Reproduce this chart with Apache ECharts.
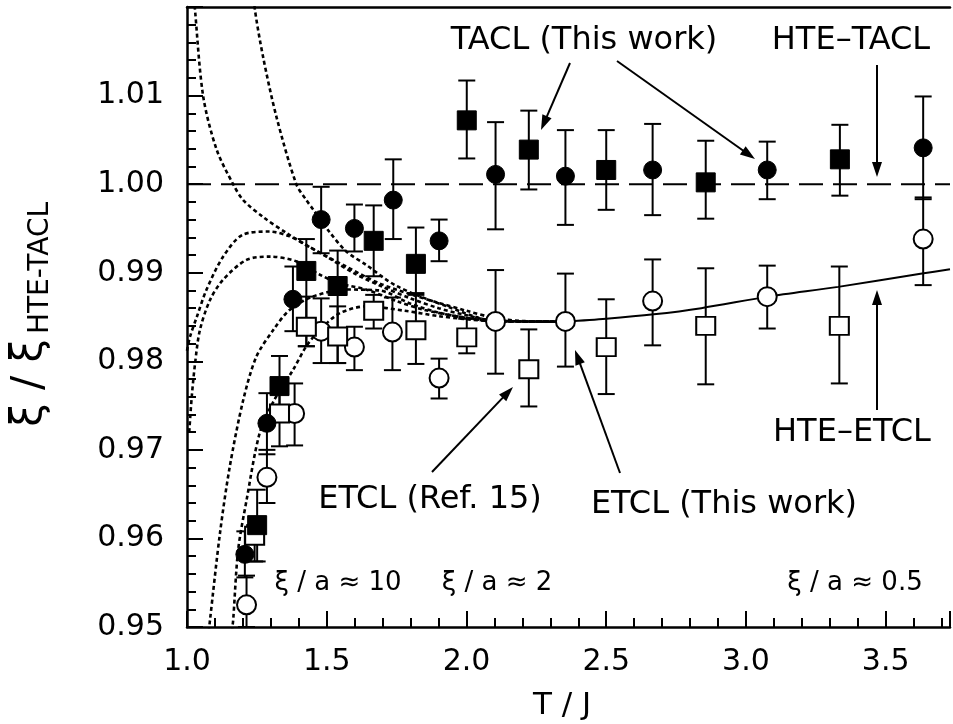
<!DOCTYPE html>
<html>
<head>
<meta charset="utf-8">
<script src="https://cdn.jsdelivr.net/npm/echarts@6/dist/echarts.min.js"></script>
<style>
html,body{margin:0;padding:0;background:#fff;}
#chart{width:953px;height:724px;}
</style>
</head>
<body>
<div id="chart"></div>
<script>
// ---- Data: [T/J, value, errLow, errHigh] ----
const taclCircles = [
  [1.207,0.9582,0.9556,0.9608],[1.286,0.9730,0.9695,0.9764],[1.379,0.9870,0.9834,0.9907],
  [1.480,0.9960,0.9922,0.9997],[1.599,0.9950,0.9924,0.9977],[1.738,0.9982,0.9938,1.0028],
  [1.902,0.9936,0.9913,0.9960],[2.104,1.0011,0.9949,1.0070],[2.354,1.0009,0.9954,1.0061],
  [2.666,1.0016,0.9965,1.0068],[3.076,1.0016,0.9983,1.0048],[3.634,1.0041,0.9983,1.0099]
];
const taclSquares = [
  [1.251,0.9615,0.9574,0.9655],[1.331,0.9772,0.9737,0.9806],[1.427,0.9902,0.9817,0.9938],
  [1.539,0.9885,0.9798,0.9925],[1.668,0.9936,0.9896,0.9976],[1.819,0.9910,0.9875,0.9951],
  [2.001,1.0072,1.0029,1.0117],[2.223,1.0039,0.9994,1.0083],[2.500,1.0016,0.9971,1.0061],
  [2.856,1.0002,0.9961,1.0049],[3.336,1.0028,0.9987,1.0067]
];
const etclRefSquares = [
  [1.242,0.9603,0.9574,0.9615],[1.331,0.9741,0.9704,0.9764],[1.427,0.9839,0.9817,0.9873],
  [1.539,0.9828,0.9798,0.9862],[1.668,0.9857,0.9837,0.9875],[1.819,0.9835,0.9797,0.9877],
  [2.001,0.9827,0.9809,0.9848],[2.223,0.9791,0.9749,0.9836],[2.500,0.9816,0.9763,0.9870],
  [2.856,0.9840,0.9774,0.9905],[3.334,0.9840,0.9775,0.9907]
];
const etclCircles = [
  [1.213,0.9525,0.9500,0.9558],[1.286,0.9669,0.9640,0.9700],[1.385,0.9741,0.9705,0.9775],
  [1.480,0.9834,0.9798,0.9871],[1.599,0.9816,0.9790,0.9839],[1.735,0.9833,0.9790,0.9872],
  [1.902,0.9781,0.9758,0.9803],[2.104,0.9845,0.9786,0.9903],[2.354,0.9845,0.9794,0.9899],
  [2.666,0.9868,0.9818,0.9915],[3.076,0.9873,0.9837,0.9908],[3.634,0.9938,0.9886,0.9985]
];
// HTE curves (dotted) and HTE-ETCL (solid)
const curveA = [[1.022,1.0225],[1.028,1.0199],[1.058,1.0099],[1.106,1.0039],[1.165,1.0000],[1.201,0.9982],[1.272,0.9963],[1.355,0.9945],[1.450,0.9927],[1.569,0.9907],[1.688,0.9888],[1.807,0.9875],[1.900,0.9866],[2.000,0.9857],[2.100,0.9849],[2.200,0.98455],[2.350,0.98447]];
const curveB = [[1.236,1.0225],[1.242,1.0199],[1.272,1.0144],[1.320,1.0076],[1.391,1.0000],[1.427,0.9982],[1.450,0.9972],[1.510,0.9946],[1.570,0.9924],[1.640,0.9909],[1.750,0.9885],[1.930,0.9862],[2.100,0.98458],[2.350,0.98447]];
const curveC = [[1.000,0.9812],[1.011,0.9828],[1.035,0.9850],[1.070,0.9881],[1.129,0.9918],[1.200,0.9943],[1.296,0.99465],[1.367,0.9941],[1.427,0.9931],[1.500,0.9918],[1.600,0.9899],[1.700,0.9884],[1.800,0.9871],[1.900,0.9860],[2.000,0.9852],[2.100,0.98458],[2.350,0.98447]];
const curveD = [[1.008,0.9720],[1.017,0.9760],[1.029,0.9798],[1.046,0.9835],[1.082,0.9869],[1.129,0.9892],[1.213,0.99145],[1.296,0.99182],[1.390,0.9913],[1.474,0.9898],[1.545,0.9888],[1.641,0.9881],[1.750,0.9868],[1.850,0.9858],[2.000,0.9849],[2.100,0.98452],[2.350,0.98447]];
const curveE = [[1.078,0.9495],[1.082,0.9507],[1.118,0.9606],[1.153,0.9681],[1.201,0.9756],[1.248,0.9805],[1.308,0.9835],[1.367,0.9858],[1.450,0.9873],[1.569,0.9881],[1.688,0.9880],[1.800,0.9865],[1.900,0.9855],[2.000,0.9849],[2.100,0.98452],[2.350,0.98447]];
const curveF = [[1.160,0.9495],[1.165,0.9507],[1.183,0.9587],[1.213,0.9643],[1.260,0.9719],[1.310,0.9755],[1.379,0.9790],[1.427,0.9817],[1.474,0.9835],[1.545,0.9854],[1.641,0.9862],[1.780,0.9857],[1.900,0.9851],[2.000,0.98475],[2.100,0.98452],[2.350,0.98447]];
const hteEtcl = [[2.35,0.98447],[2.50,0.9848],[2.67,0.9853],[2.84,0.9860],[3.08,0.9873],[3.33,0.9884],[3.63,0.9899],[3.73,0.9904]];
const hteTacl = [[1.0,1.0],[3.73,1.0]];

// axis settings
const xMin = 1.0, xMax = 3.73, xStep = 0.5;
const yMin = 0.95, yMax = 1.02, yStep = 0.01;

// text annotations
const annTexts = [
  {t:'TACL (This work)', x:584, y:41, s:32},
  {t:'HTE–TACL', x:851, y:41, s:32},
  {t:'HTE–ETCL', x:852, y:433, s:32},
  {t:'ETCL (This work)', x:724, y:505, s:32},
  {t:'ETCL (Ref. 15)', x:430, y:500, s:32},
  {t:'ξ / a ≈ 10', x:338, y:583, s:26},
  {t:'ξ / a ≈ 2', x:497, y:583, s:26},
  {t:'ξ / a ≈ 0.5', x:855, y:583, s:26}
];
const annArrows = [
  [570,63,541,130],[617,61,755,159],[877,65,877,177],[877,410,877,290],[620,473,575,350],[432,472,513,387]
];

const FF = '"DejaVu Sans", sans-serif';
const chart = echarts.init(document.getElementById('chart'), null, {renderer:'canvas'});

function errBars(data){
  return {
    type:'custom', data:data.map(r=>[r[0],r[2],r[3]]), encode:{x:0,y:[1,2]}, clip:true, z:3,
    renderItem:function(params, api){
      const lo = api.coord([api.value(0), api.value(1)]);
      const hi = api.coord([api.value(0), api.value(2)]);
      const w = 8.5, st = {stroke:'#000', lineWidth:2};
      return {type:'group', children:[
        {type:'line', shape:{x1:lo[0],y1:lo[1],x2:hi[0],y2:hi[1]}, style:st},
        {type:'line', shape:{x1:lo[0]-w,y1:lo[1],x2:lo[0]+w,y2:lo[1]}, style:st},
        {type:'line', shape:{x1:hi[0]-w,y1:hi[1],x2:hi[0]+w,y2:hi[1]}, style:st}
      ]};
    }
  };
}
function marks(data, symbol, size, filled){
  return {
    type:'scatter', data:data.map(r=>[r[0],r[1]]), symbol:symbol, symbolSize:size, z:5,
    itemStyle: filled ? {color:'#000', borderColor:'#000', borderWidth:1, opacity:1}
                      : {color:'#fff', borderColor:'#000', borderWidth:2, opacity:1},
    emphasis:{disabled:true}
  };
}
function dotted(data){
  return {type:'line', data:data, symbol:'none', smooth:0.3, z:2, clip:true,
    lineStyle:{color:'#000', width:2.6, type:[4,3]}};
}

const graphics = [];
annTexts.forEach(a=>graphics.push({type:'text', x:a.x, y:a.y, z:10,
  style:{text:a.t, font:a.s+'px '+FF, fill:'#000', align:'center', verticalAlign:'middle'}}));
annArrows.forEach(a=>{
  const [x1,y1,x2,y2]=a; const ang=Math.atan2(y2-y1,x2-x1);
  const L=15, W=5, c=Math.cos(ang), s=Math.sin(ang);
  const bx=x2-L*c, by=y2-L*s;
  graphics.push({type:'line', z:10, shape:{x1:x1,y1:y1,x2:bx+2*c,y2:by+2*s}, style:{stroke:'#000', lineWidth:2}});
  graphics.push({type:'polygon', z:10, shape:{points:[[x2,y2],[bx-W*s,by+W*c],[bx+W*s,by-W*c]]}, style:{fill:'#000'}});
});
// y-axis title
graphics.push({type:'text', x:30, y:383, rotation:Math.PI/2, z:10,
  style:{text:'ξ / ξ', font:'42px '+FF, fill:'#000', align:'center', verticalAlign:'middle'}});
graphics.push({type:'text', x:41, y:268, rotation:Math.PI/2, z:10,
  style:{text:'HTE-TACL', font:'28px '+FF, fill:'#000', align:'center', verticalAlign:'middle'}});
// x-axis title
graphics.push({type:'text', x:562, y:706, z:10,
  style:{text:'T / J', font:'31px '+FF, fill:'#000', align:'center', verticalAlign:'middle'}});

const onStep = (v, step) => Math.abs(v/step - Math.round(v/step)) < 1e-6;

chart.setOption({
  animation:false,
  backgroundColor:'#fff',
  grid:{left:187, right:0, top:7, bottom:97, containLabel:false},
  xAxis:[{
    type:'value', min:xMin, max:xMax, interval:xStep, position:'bottom',
    axisLine:{show:true, onZero:false, lineStyle:{color:'#000', width:2.5}},
    axisTick:{show:true, inside:true, length:16, lineStyle:{color:'#000', width:2}},
    minorTick:{show:true, splitNumber:5, length:9, lineStyle:{color:'#000', width:2}},
    axisLabel:{margin:20, color:'#000', fontSize:30, fontFamily:FF,
      formatter:v=> onStep(v,xStep) ? v.toFixed(1) : ''},
    splitLine:{show:false}, minorSplitLine:{show:false}
  },{
    type:'value', min:xMin, max:xMax, position:'top',
    axisLine:{show:true, onZero:false, lineStyle:{color:'#000', width:2.5}},
    axisTick:{show:false}, axisLabel:{show:false}, splitLine:{show:false}
  }],
  yAxis:{
    type:'value', min:yMin, max:yMax, interval:yStep,
    axisLine:{show:true, onZero:false, lineStyle:{color:'#000', width:2.5}},
    axisTick:{show:true, inside:true, length:16, lineStyle:{color:'#000', width:2}},
    minorTick:{show:true, splitNumber:5, length:9, lineStyle:{color:'#000', width:2}},
    axisLabel:{margin:23, color:'#000', fontSize:30, fontFamily:FF,
      formatter:v=> v > 1.015 ? '' : v.toFixed(2)},
    splitLine:{show:false}
  },
  graphic:graphics,
  series:[
    {type:'line', data:hteTacl, symbol:'none', z:1, lineStyle:{color:'#000', width:2, type:[24,10]}},
    dotted(curveA), dotted(curveB), dotted(curveC), dotted(curveD), dotted(curveE), dotted(curveF),
    {type:'line', data:hteEtcl, symbol:'none', smooth:0.3, z:2, lineStyle:{color:'#000', width:2}},
    errBars(taclCircles), errBars(taclSquares), errBars(etclRefSquares), errBars(etclCircles),
    marks(etclCircles,'circle',19,false),
    marks(etclRefSquares,'rect',[19,18],false),
    marks(taclCircles,'circle',18,true),
    marks(taclSquares,'rect',19,true)
  ]
});
</script>
</body>
</html>
